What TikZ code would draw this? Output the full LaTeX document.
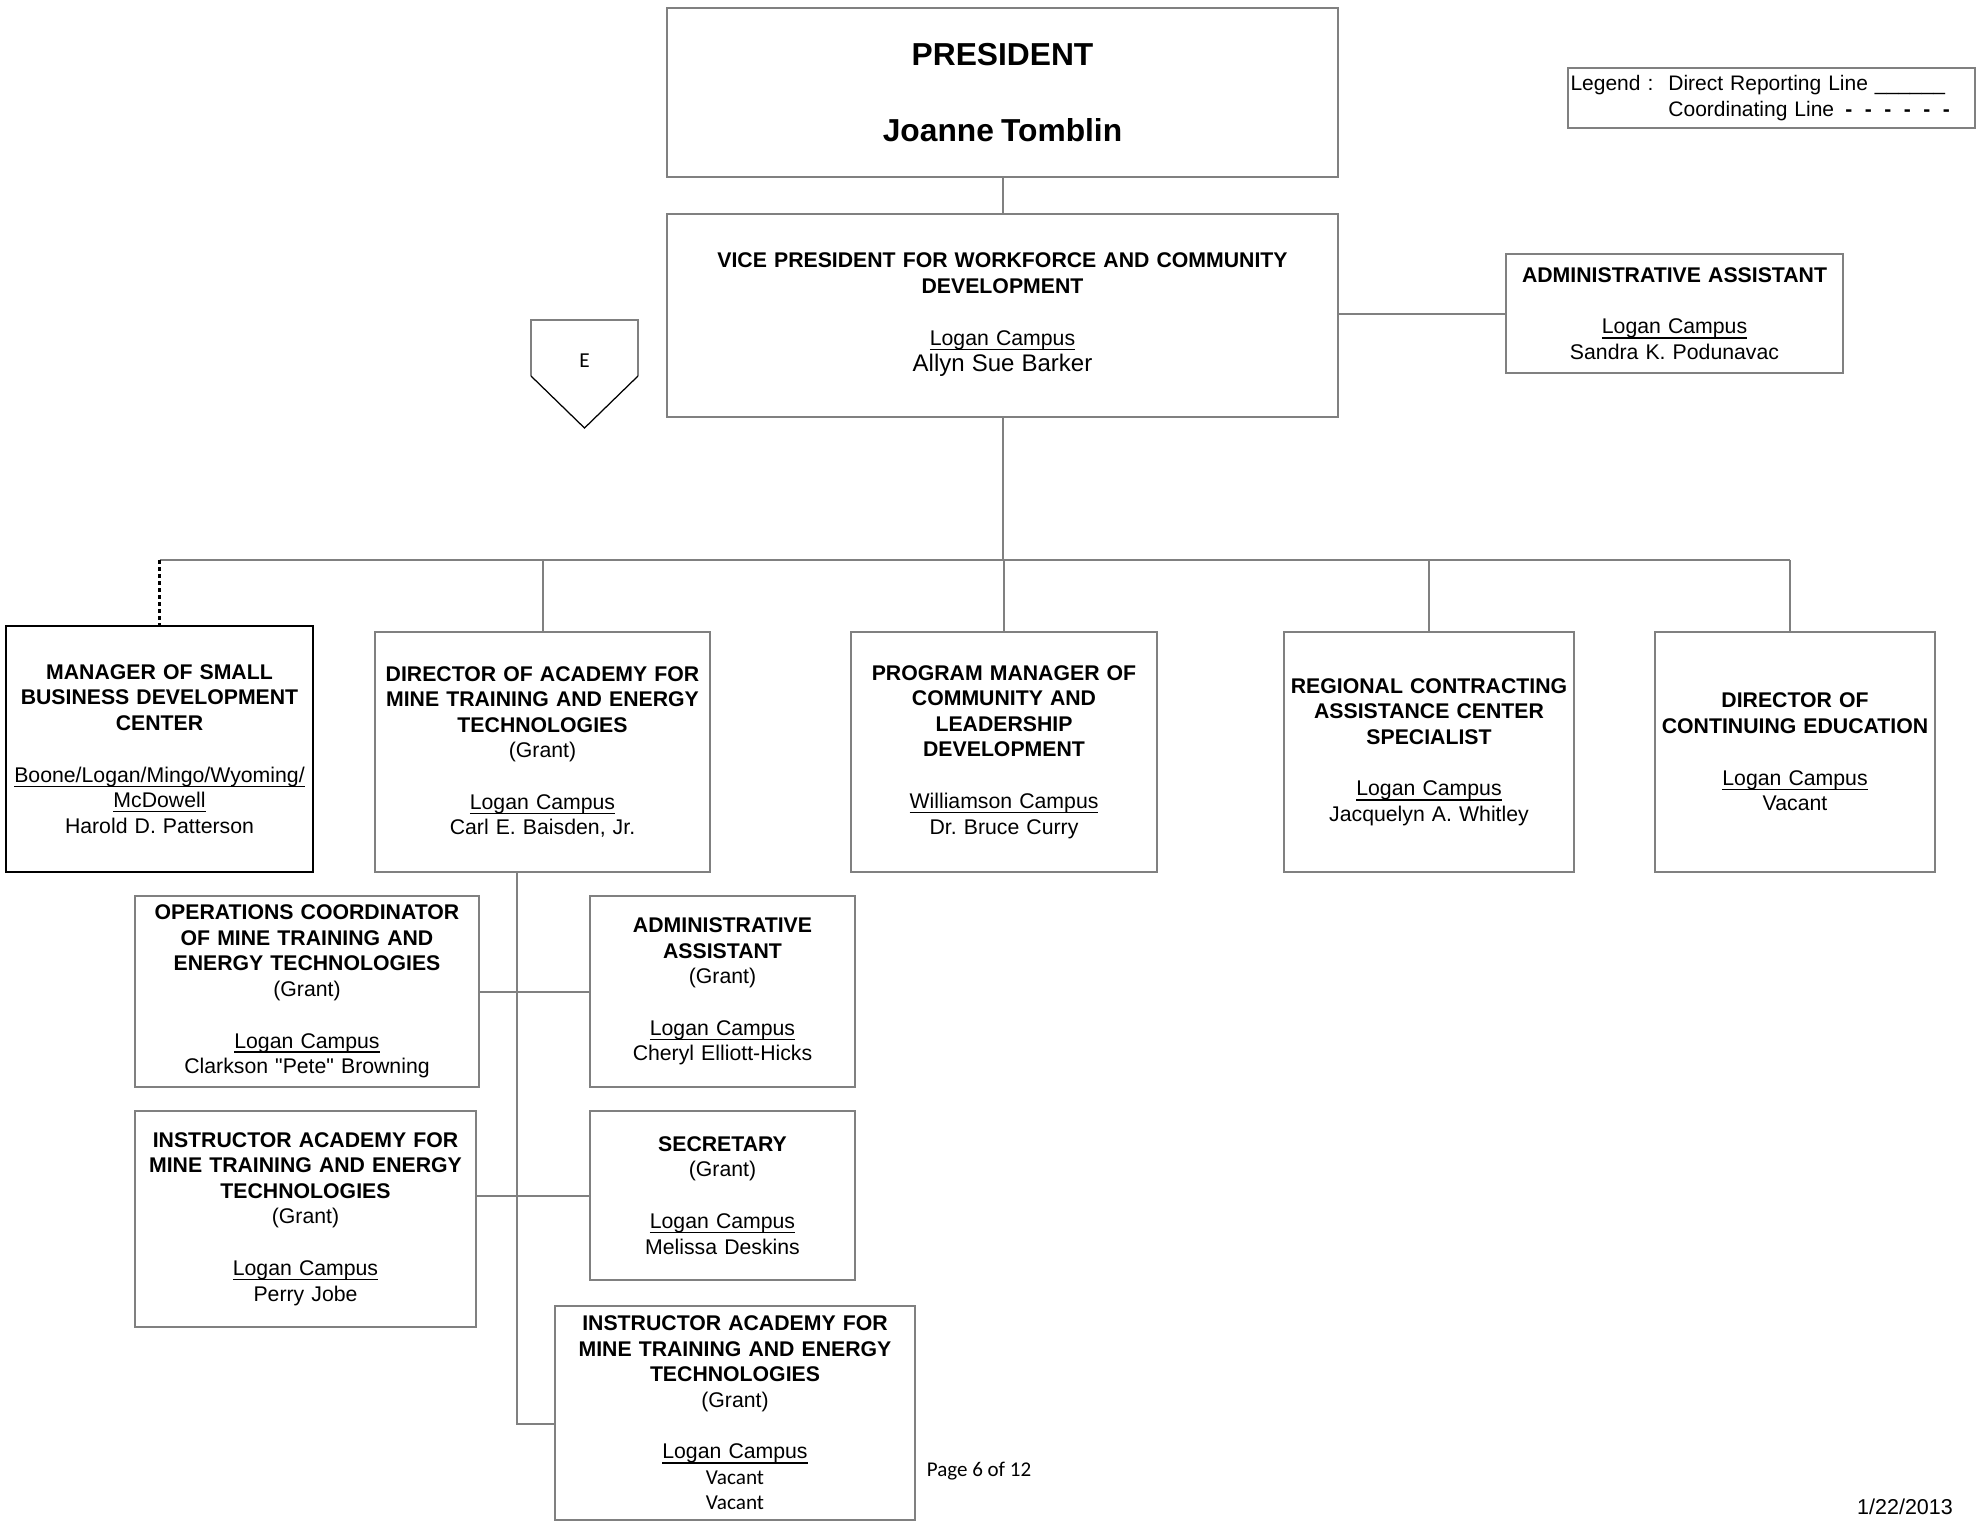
\documentclass[tikz,border=0pt]{standalone}
\usepackage{fontspec}
\setmainfont{Liberation Sans}[Ligatures=TeXOff]
\newfontfamily\calibri{Carlito}
\usetikzlibrary{positioning,calc}
\definecolor{boxgray}{RGB}{128,128,128}
\newsavebox\sitebox
\newcommand{\site}[1]{\leavevmode\sbox\sitebox{#1}\rlap{\raisebox{-1.9pt}{\rule{\wd\sitebox}{0.55pt}}}\usebox\sitebox}
\frenchspacing

\begin{document}
\begin{tikzpicture}[x=0.4pt, y=-0.4pt,
            every node/.style={inner xsep=0pt, inner ysep=1pt, align=center,
                               font=\fontsize{8.5}{10.2}\selectfont},
            post/.style 2 args={draw=boxgray, line width=0.8pt,
                               minimum width=#1, text width=#1, minimum height=#2},
            link/.style={draw=boxgray, line width=0.8pt},
            coord/.style={draw=black, line width=1pt, dash pattern=on 1.6pt off 1.2pt}]
        \useasboundingbox (0,0) rectangle (1978,1521);

        \node[post={268.4pt}{67.6pt}] (pres) at (1002.5,92.5)
            {{\fontsize{12.7}{14.6}\selectfont\bfseries PRESIDENT\\[16pt] Joanne Tomblin\par}};
        \node[post={268.4pt}{81.2pt}] (vp) at (1002.5,315)
            {{\bfseries VICE PRESIDENT FOR WORKFORCE AND COMMUNITY\\ DEVELOPMENT}\\[10.5pt]
             \site{Logan Campus}\\[0.5pt] {\fontsize{9.6}{11.2}\selectfont Allyn Sue Barker}};
        \node[post={134.8pt}{47.6pt}] (asst) at (1674.5,313.5)
            {{\bfseries ADMINISTRATIVE ASSISTANT}\\[10.5pt] \site{Logan Campus}\\ Sandra K. Podunavac};
        \node[draw=boxgray, line width=0.8pt, minimum width=162.8pt, minimum height=24pt,
              text width=160.8pt, inner xsep=1pt, align=left, anchor=north west,
              font=\fontsize{8.4}{10.4}\selectfont] (legend) at (1567,67)
            {\begin{tabular}{@{}l@{\hspace{6pt}}l@{}}
             Legend : & Direct Reporting Line \_\_\_\_\_\_\\
                      & Coordinating Line\hspace{4.5pt}{\bfseries -\hspace{5pt}-\hspace{5pt}-\hspace{5pt}-\hspace{5pt}-\hspace{5pt}-}
             \end{tabular}};

        \draw[boxgray, line width=0.8pt] (531,376) -- (531,320) -- (638,320) -- (638,376);
        \draw[black, line width=0.5pt] (531,376) -- (584.5,428) -- (638,376);
        \node[font=\calibri\fontsize{8.5}{10}\selectfont] (offpage) at (584.5,361) {E};

        \node[post={122.8pt}{98.4pt}, draw=black, line width=1pt] (sbdc) at (159.5,749)
            {{\bfseries MANAGER OF SMALL\\ BUSINESS DEVELOPMENT\\ CENTER}\\[10.5pt]
             \site{Boone/Logan/Mingo/Wyoming/}\\ \site{McDowell}\\ Harold D. Patterson};
        \node[post={134pt}{96pt}] (acad) at (542.5,752)
            {{\bfseries DIRECTOR OF ACADEMY FOR\\ MINE TRAINING AND ENERGY\\ TECHNOLOGIES}\\ (Grant)\\[10.5pt]
             \site{Logan Campus}\\ Carl E. Baisden, Jr.};
        \node[post={122.4pt}{96pt}] (comm) at (1004,752)
            {{\bfseries PROGRAM MANAGER OF\\ COMMUNITY AND\\ LEADERSHIP\\ DEVELOPMENT}\\[10.5pt]
             \site{Williamson Campus}\\ Dr. Bruce Curry};
        \node[post={116pt}{96pt}] (ptac) at (1429,752)
            {{\bfseries REGIONAL CONTRACTING\\ ASSISTANCE CENTER\\ SPECIALIST}\\[10.5pt]
             \site{Logan Campus}\\ Jacquelyn A. Whitley};
        \node[post={112pt}{96pt}] (dce) at (1795,752)
            {{\bfseries DIRECTOR OF\\ CONTINUING EDUCATION}\\[10.5pt]
             \site{Logan Campus}\\ Vacant};

        \node[post={137.6pt}{76.4pt}] (ops) at (307,991.5)
            {{\bfseries OPERATIONS COORDINATOR\\ OF MINE TRAINING AND\\ ENERGY TECHNOLOGIES}\\ (Grant)\\[10.5pt]
             \site{Logan Campus}\\ Clarkson "Pete" Browning};
        \node[post={106pt}{76.4pt}] (aa2) at (722.5,991.5)
            {{\bfseries ADMINISTRATIVE\\ ASSISTANT}\\ (Grant)\\[10.5pt]
             \site{Logan Campus}\\ Cheryl Elliott-Hicks};
        \node[post={136.4pt}{86.4pt}] (inst1) at (305.5,1219)
            {{\bfseries INSTRUCTOR ACADEMY FOR\\ MINE TRAINING AND ENERGY\\ TECHNOLOGIES}\\ (Grant)\\[10.5pt]
             \site{Logan Campus}\\ Perry Jobe};
        \node[post={106pt}{67.6pt}] (sec) at (722.5,1195.5)
            {{\bfseries SECRETARY}\\ (Grant)\\[10.5pt]
             \site{Logan Campus}\\ Melissa Deskins};
        \node[post={144pt}{85.6pt}] (inst2) at (735,1413)
            {{\bfseries INSTRUCTOR ACADEMY FOR\\ MINE TRAINING AND ENERGY\\ TECHNOLOGIES}\\ (Grant)\\[10.5pt]
             \site{Logan Campus}\\ {\calibri Vacant}\\ {\calibri Vacant}};

        \node[font=\calibri\fontsize{8.4}{10}\selectfont] (page) at (979,1471) {Page 6 of 12};
        \node[font=\fontsize{8.6}{10}\selectfont] (date) at (1905,1507) {1/22/2013};

        \coordinate (bar) at (1003,560);
        \coordinate (spine) at (517,1424);
        \coordinate (dcedrop) at (1790,0);
        \draw[link] (pres) -- (vp.north -| pres);
        \draw[link] (vp.east |- asst) -- (asst);
        \draw[link] (vp.south) -- (vp.south |- bar);
        \draw[link] (sbdc.north |- bar) -- (dcedrop |- bar);
        \foreach \n in {acad,comm,ptac}
            \draw[link] (\n.north |- bar) -- (\n.north);
        \draw[link] (dcedrop |- bar) -- (dcedrop |- dce.north);
        \draw[coord] (sbdc.north |- bar) -- (sbdc.north);
        \draw[link] (acad.south -| spine) -- (spine) -- (spine -| inst2.west);
        \draw[link] (ops) -- (aa2);
        \draw[link] (inst1.east |- sec) -- (sec);
\end{tikzpicture}
\end{document}
